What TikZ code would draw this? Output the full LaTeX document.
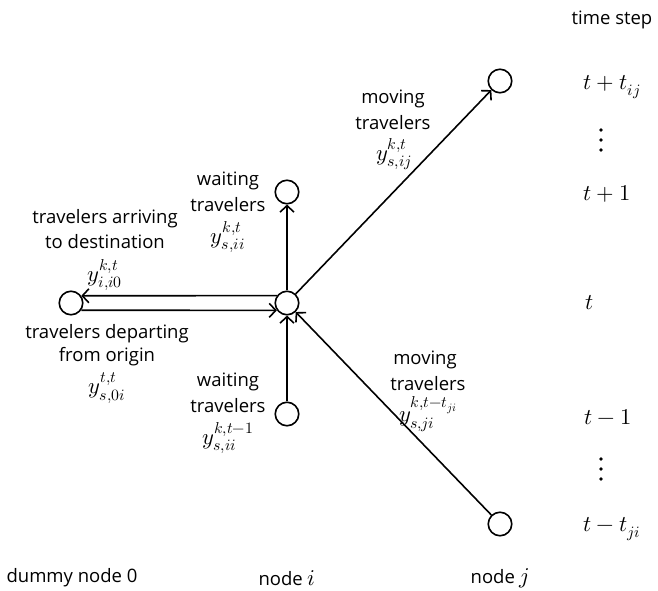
\documentclass[tikz,border=0pt]{standalone}
\usepackage{fontspec}
\usepackage{unicode-math}
\setmainfont{Open Sans}
\setmathfont{Latin Modern Math}[Scale=1.22]
\usetikzlibrary{arrows.meta}
\begin{document}
\begin{tikzpicture}[x=1pt,y=-1pt,
  vert/.style={circle,draw,line width=1.6pt,minimum size=23.5pt,inner sep=0pt},
  flow/.style={line width=1.6pt,-{Straight Barb[length=6.5pt,width=14pt]}},
  dotmark/.style={circle,fill,inner sep=0pt,minimum size=3.8pt},
  lbl/.style={font=\fontsize{18.5}{22}\selectfont,inner sep=0pt,anchor=center}]
\useasboundingbox (0,0) rectangle (658,591);
\node[vert] (o) at (71,303) {};
\node[vert] (i) at (287,303) {};
\node[vert] (iu) at (287,192) {};
\node[vert] (id) at (287,414) {};
\node[vert] (ju) at (500,81) {};
\node[vert] (jd) at (500,524) {};
\draw[flow] (i.144.3) -- (o.35.7);
\draw[flow] (o.-35.7) -- (i.-144.3);
\draw[flow] (i) -- (iu);
\draw[flow] (id) -- (i);
\draw[flow] (i) -- (ju);
\draw[flow] (jd) -- (i);
% time step column
\node[lbl] (ts) at (612,20) {time step};
\node[lbl] (t1) at (612,87) {$t+t_{ij}$};
\node[dotmark] (d1a) at (601,130) {};
\node[dotmark] (d1b) at (601,140) {};
\node[dotmark] (d1c) at (601,150) {};
\node[lbl] (t2) at (607,194) {$t+1$};
\node[lbl] (t3) at (590,303) {$t$};
\node[lbl] (t4) at (608,417) {$t-1$};
\node[dotmark] (d2a) at (601,459) {};
\node[dotmark] (d2b) at (601,469) {};
\node[dotmark] (d2c) at (601,479) {};
\node[lbl] (t5) at (612,529) {$t-t_{ji}$};
% bottom names
\node[lbl] (n0) at (72,578) {dummy node 0};
\node[lbl] (ni) at (287,578) {node $i$};
\node[lbl] (nj) at (500,578) {node $j$};
% labels
\node[lbl] (m1a) at (393,99) {moving};
\node[lbl] (m1b) at (393,123) {travelers};
\node[lbl] (m1c) at (394,154) {$y^{k,t}_{s,ij}$};
\node[lbl] (w1a) at (228,181) {waiting};
\node[lbl] (w1b) at (228,205) {travelers};
\node[lbl] (w1c) at (228,237) {$y^{k,t}_{s,ii}$};
\node[lbl] (a1) at (105,219) {travelers arriving};
\node[lbl] (a2) at (105,242) {to destination};
\node[lbl] (a3) at (105,275) {$y^{k,t}_{i,i0}$};
\node[lbl] (p1) at (107,334) {travelers departing};
\node[lbl] (p2) at (107,357) {from origin};
\node[lbl] (p3) at (107,388) {$y^{t,t}_{s,0i}$};
\node[lbl] (w2a) at (228,382) {waiting};
\node[lbl] (w2b) at (228,406) {travelers};
\node[lbl] (w2c) at (228,438) {$y^{k,t-1}_{s,ii}$};
\node[lbl] (m2a) at (425,360) {moving};
\node[lbl] (m2b) at (428,384) {travelers};
\node[lbl] (m2c) at (428,414) {$y^{k,t-t_{ji}}_{s,ji}$};
\end{tikzpicture}
\end{document}
